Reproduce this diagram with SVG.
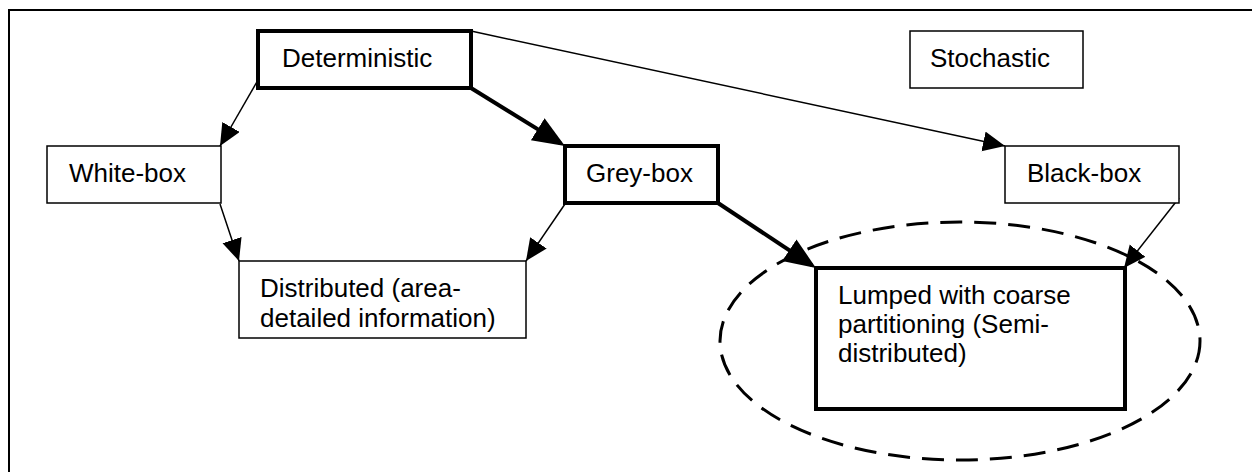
<svg xmlns="http://www.w3.org/2000/svg" width="1252" height="472" viewBox="0 0 1252 472">
<style>
text{font-family:"Liberation Sans",Arial,sans-serif;font-size:26px;fill:#000}
.box{fill:#fff;stroke:#000;stroke-width:1.5}
.thick{fill:#fff;stroke:#000;stroke-width:4}
.c{fill:none;stroke:#000;stroke-width:1.5}
.ct{fill:none;stroke:#000;stroke-width:4}
</style>
<defs>
<marker id="a" markerUnits="userSpaceOnUse" markerWidth="24" markerHeight="22" refX="22" refY="10" orient="auto"><path d="M0,0 L22,10 L0,20 z" fill="#000"/></marker>
<marker id="b" markerUnits="userSpaceOnUse" markerWidth="34" markerHeight="28" refX="27" refY="13" orient="auto"><path d="M0,0 L32,13 L0,26 z" fill="#000"/></marker>
</defs>
<rect x="9" y="10" width="1260" height="480" fill="none" stroke="#000" stroke-width="2"/>
<g id="connectors">
<line class="c" x1="258" y1="80" x2="220" y2="146" marker-end="url(#a)"/>
<line class="c" x1="220" y1="204" x2="239" y2="261" marker-end="url(#a)"/>
<line class="ct" x1="471" y1="88" x2="560.7" y2="143.4" marker-end="url(#b)"/>
<line class="c" x1="471" y1="31" x2="1005" y2="146" marker-end="url(#a)"/>
<line class="c" x1="565" y1="204" x2="526" y2="261" marker-end="url(#a)"/>
<line class="ct" x1="718" y1="203" x2="811.8" y2="265.2" marker-end="url(#b)"/>
<line class="c" x1="1179" y1="198" x2="1124" y2="268" marker-end="url(#a)"/>
</g>
<g id="group-ellipse"><ellipse cx="960" cy="341" rx="240" ry="119" fill="none" stroke="#000" stroke-width="3" stroke-dasharray="22 12"/></g>
<g id="deterministic"><rect class="thick" x="258" y="31" width="213" height="57"/><text x="282" y="67">Deterministic</text></g>
<g id="stochastic"><rect class="box" x="910" y="31" width="173" height="57"/><text x="930" y="67">Stochastic</text></g>
<g id="white-box"><rect class="box" x="47" y="146" width="174" height="57"/><text x="69" y="182">White-box</text></g>
<g id="grey-box"><rect class="thick" x="565" y="146" width="153" height="57"/><text x="586" y="182">Grey-box</text></g>
<g id="black-box"><rect class="box" x="1005" y="146" width="174" height="57"/><text x="1027" y="182">Black-box</text></g>
<g id="distributed"><rect class="box" x="239" y="261" width="287" height="77"/><text x="260" y="297">Distributed (area-</text><text x="260" y="327">detailed information)</text></g>
<g id="lumped"><rect class="thick" x="816" y="268" width="309" height="141"/><text x="838" y="304">Lumped with coarse</text><text x="838" y="333">partitioning (Semi-</text><text x="838" y="362">distributed)</text></g>
</svg>
